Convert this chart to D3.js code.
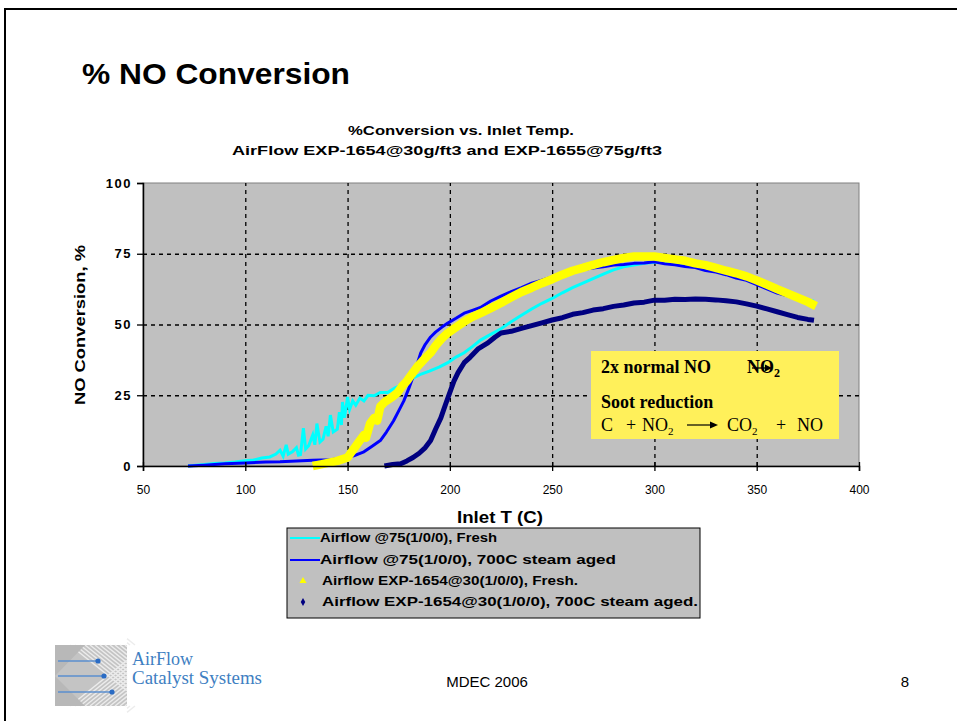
<!DOCTYPE html>
<html><head><meta charset="utf-8">
<script src="https://cdn.jsdelivr.net/npm/d3@7/dist/d3.min.js"></script>
<style>
body{margin:0;background:#fff;}
svg{display:block;}
</style></head>
<body>
<svg id="c" width="957" height="721"></svg>
<script>
// ---- data ----
const xTicks = [50,100,150,200,250,300,350,400];
const yTicks = [0,25,50,75,100];

const seriesNames = [
  "Airflow @75(1/0/0), Fresh",
  "Airflow @75(1/0/0), 700C steam aged",
  "Airflow EXP-1654@30(1/0/0), Fresh.",
  "Airflow EXP-1654@30(1/0/0), 700C steam aged."
];

const cyanFresh = [
 [72,0],[76,0.3],[80,0.5],[85,0.9],[90,1.1],[95,1.4],[100,1.9],[104,2.1],[108,2.8],[112,3.2],[115,4.2],
 [117,5.6],[118.5,3.5],[120,7.5],[121,4.2],[123,5],[125,6.5],[126,3.8],[127,4],[128.4,13.4],[129.5,6],[131,7.2],
 [133,11],[134,7.5],[135,15],[136.5,8.5],[138,9.5],[139.5,14],[140.5,10.5],[141.6,18],[143,12],[145,13],
 [146,19],[147,14.5],[147.5,22.6],[148.5,17],[150,24.4],[151,20],[152.5,23],[154,21.5],[156,24],[158,23],
 [160,25],[163,24.8],[166,26],[169.6,26],[173,27.5],[176,28.5],[179,29.5],[182,31],[186,32.5],[190,33.5],
 [195,35],[199,36.5],[203,38.5],[207,40],[211,42.2],[215,44.5],[220,46.5],[225,48.5],[230,51],[235,53.3],
 [240,55.5],[245,57.5],[250,59.2],[255,61.2],[260,63],[265,64.6],[270,66.2],[275,67.8],[280,69.3],[285,70.4],
 [290,71],[295,71.6],[300,72],[305,72.1],[310,71.6],[315,71.2],[320,70.6],[325,69.8],[330,69.1],[335,68.2],
 [340,67.2],[345,66.1],[350,64.9],[355,63.5],[360,62.2],[365,60.9],[370,59.8],[375,58.8],[378,58.2]
];
const blueAged = [
 [72,0],[80,0.3],[90,0.8],[100,1.1],[110,1.4],[117,1.5],[125,1.8],[133,2],[141.6,2.2],[148,2.8],[153,3.6],
 [158,5],[162,7],[166,9],[169,12],[172.5,16],[175,19.5],[177.5,23],[180,27.5],[182,31.5],[184,36],
 [185.8,40],[188,43],[190.6,45.6],[193,47.3],[196,49],[199,50.5],[203,52.2],[207,54],[211,55],[215,56],
 [220,58.3],[225,60],[230,61.6],[235,63],[240,64.6],[245,65.7],[250,66.8],[255,67.7],[260,68.8],[265,69.3],
 [270,70],[275,70.4],[280,71],[285,71.2],[290,71.6],[295,71.7],[300,72.2],[305,71.5],[310,71.1],[315,70.5],
 [320,70.1],[325,69.1],[330,68.5],[335,67.6],[340,66.4],[345,65.6],[350,64.1],[355,62.6],[360,61.1],
 [365,60.1],[370,58.9],[375,57.6],[378,57]
];
const yellowFresh = [
 [133,0],[137,0.6],[141,1.2],[145,1.8],[150,3],[153,6],[156,9],[158,11],[159,10],[161,15],[163,17],
 [164.5,16],[166,21],[168,22.5],[170,23.5],[172,24.5],[174.5,26],[177,28.5],[179,30],[182,33],[184,35],
 [186.5,37],[188.5,38.5],[190.6,40],[193,42.5],[196,45],[199,47],[203,49],[207,51],[211,52.7],[215,54],
 [220,55.8],[225,57.6],[230,59.6],[235,61.5],[240,63],[245,64.6],[250,66],[255,67.6],[260,69],[265,70],
 [270,71.1],[275,72],[280,72.8],[285,73.5],[290,74],[295,74],[300,74],[305,73.5],[310,73],[315,72.5],
 [320,71.6],[325,71],[330,70],[335,69],[340,68.1],[345,67],[350,65.6],[355,64.1],[360,62.5],[365,61],
 [370,59.5],[375,58],[379,56.5]
];
const navyAged = [
 [168,0],[172,0.5],[176,0.8],[179,1.8],[182,3],[185,4.5],[188,6.5],[190.6,9],[193,13],[195.6,17],[198,22],
 [200.5,27],[202,30],[204,33],[207,36.5],[210,38.5],[214,41.5],[218.6,43.5],[222,45.5],[225,47],[230,47.6],
 [235,48.6],[240,49.6],[245,50.6],[250,51.6],[255,52.4],[260,53.6],[265,54.2],[270,55.1],[275,55.6],
 [280,56.4],[285,56.9],[290,57.6],[295,57.9],[300,58.6],[305,58.6],[310,58.9],[315,58.8],[320,59],
 [325,58.9],[330,58.7],[335,58.4],[340,58],[345,57.3],[350,56.5],[355,55.5],[360,54.5],[365,53.5],
 [370,52.5],[375,51.8],[378,51.5]
];

// ---- drawing ----
const svg = d3.select("#c");
const SANS = "'Liberation Sans', Arial, sans-serif";
const SERIF = "'Liberation Serif', 'Times New Roman', serif";

// slide border
svg.append("rect").attr("x",5).attr("y",9).attr("width",1000).attr("height",800)
  .attr("fill","none").attr("stroke","#000").attr("stroke-width",2);

// slide title
svg.append("text").attr("x",82).attr("y",84).attr("font-family",SANS).attr("font-weight","bold")
  .attr("font-size",30).attr("textLength",268).attr("lengthAdjust","spacingAndGlyphs").text("% NO Conversion");

// chart title
svg.append("text").attr("x",461).attr("y",135).attr("text-anchor","middle").attr("font-family",SANS)
  .attr("font-weight","bold").attr("font-size",12.5).attr("textLength",226).attr("lengthAdjust","spacingAndGlyphs")
  .text("%Conversion vs. Inlet Temp.");
svg.append("text").attr("x",447).attr("y",155).attr("text-anchor","middle").attr("font-family",SANS)
  .attr("font-weight","bold").attr("font-size",12.5).attr("textLength",430).attr("lengthAdjust","spacingAndGlyphs")
  .text("AirFlow EXP-1654@30g/ft3 and EXP-1655@75g/ft3");

const L=143, R=859, T=183, B=466;
const x = d3.scaleLinear().domain([50,400]).range([L,R]);
const y = d3.scaleLinear().domain([0,100]).range([B,T]);

// plot background
svg.append("rect").attr("x",L).attr("y",T).attr("width",R-L).attr("height",B-T)
  .attr("fill","#c0c0c0").attr("stroke","#808080").attr("stroke-width",1);

// gridlines
const gx = svg.append("g").attr("transform",`translate(0,${B})`)
  .call(d3.axisBottom(x).tickValues(xTicks.slice(1,-1)).tickSize(-(B-T)).tickFormat(""));
gx.select(".domain").remove();
gx.selectAll("line").attr("stroke","#000").attr("stroke-dasharray","4,4").attr("stroke-width",1.3);
const gy = svg.append("g").attr("transform",`translate(${L},0)`)
  .call(d3.axisLeft(y).tickValues(yTicks.slice(1,-1)).tickSize(-(R-L)).tickFormat(""));
gy.select(".domain").remove();
gy.selectAll("line").attr("stroke","#000").attr("stroke-dasharray","4,4").attr("stroke-width",1.3);

// series
const line = d3.line().x(d=>x(d[0])).y(d=>y(d[1]));
const plot = svg.append("g");
plot.append("path").datum(cyanFresh).attr("d",line).attr("fill","none").attr("stroke","#00ffff").attr("stroke-width",3).attr("stroke-linejoin","miter");
plot.append("path").datum(blueAged).attr("d",line).attr("fill","none").attr("stroke","#0000ff").attr("stroke-width",3).attr("stroke-linejoin","round");
plot.append("path").datum(yellowFresh).attr("d",line).attr("fill","none").attr("stroke","#ffff00").attr("stroke-width",8.5).attr("stroke-linejoin","round");
plot.append("path").datum(navyAged).attr("d",line).attr("fill","none").attr("stroke","#000080").attr("stroke-width",5).attr("stroke-linejoin","round");

// axes
const ax = svg.append("g").attr("transform",`translate(0,${B})`)
  .call(d3.axisBottom(x).tickValues(xTicks).tickSize(5).tickPadding(14));
ax.select(".domain").attr("stroke","#000").attr("stroke-width",1.5);
ax.selectAll(".tick line").attr("stroke","#000").attr("y1",-4).attr("stroke-width",1.3);
ax.selectAll("text").attr("font-family",SANS).attr("font-size",12).attr("fill","#000");

const ay = svg.append("g").attr("transform",`translate(${L},0)`)
  .call(d3.axisLeft(y).tickValues(yTicks).tickSize(6).tickPadding(5));
ay.select(".domain").attr("stroke","#000").attr("stroke-width",1.5);
ay.selectAll(".tick line").attr("stroke","#000").attr("stroke-width",1.3);
ay.selectAll("text").attr("font-family",SANS).attr("font-size",13).attr("font-weight","bold")
  .attr("letter-spacing","1.5px").attr("fill","#000");

// axis titles
svg.append("text").attr("transform","translate(85,325) rotate(-90)").attr("text-anchor","middle")
  .attr("font-family",SANS).attr("font-weight","bold").attr("font-size",15)
  .attr("textLength",160).attr("lengthAdjust","spacingAndGlyphs").text("NO Conversion, %");
svg.append("text").attr("x",500).attr("y",523).attr("text-anchor","middle")
  .attr("font-family",SANS).attr("font-weight","bold").attr("font-size",16)
  .attr("textLength",86).attr("lengthAdjust","spacingAndGlyphs").text("Inlet T (C)");

// annotation box
svg.append("rect").attr("x",591).attr("y",351).attr("width",248).attr("height",88).attr("fill","#fff05a");
const ann = svg.append("g").attr("font-family",SERIF).attr("fill","#000");
ann.append("text").attr("x",601).attr("y",373).attr("font-size",18).attr("font-weight","bold").text("2x normal NO");
ann.append("text").attr("x",747).attr("y",373).attr("font-size",18).attr("font-weight","bold").text("NO");
ann.append("text").attr("x",774).attr("y",377).attr("font-size",12).attr("font-weight","bold").text("2");
ann.append("line").attr("x1",752).attr("x2",768).attr("y1",368).attr("y2",368).attr("stroke","#000").attr("stroke-width",1.3);
ann.append("path").attr("d","M772,368 L765,364.5 L765,371.5 Z").attr("fill","#000");
ann.append("text").attr("x",601).attr("y",408).attr("font-size",18).attr("font-weight","bold").text("Soot reduction");
ann.append("text").attr("x",601).attr("y",431).attr("font-size",18).text("C");
ann.append("text").attr("x",626).attr("y",431).attr("font-size",18).text("+");
ann.append("text").attr("x",642).attr("y",431).attr("font-size",18).text("NO");
ann.append("text").attr("x",668).attr("y",435).attr("font-size",11).text("2");
ann.append("line").attr("x1",687).attr("x2",713).attr("y1",425).attr("y2",425).attr("stroke","#000").attr("stroke-width",1.2);
ann.append("path").attr("d","M718,425 L710,421.5 L710,428.5 Z").attr("fill","#000");
ann.append("text").attr("x",727).attr("y",431).attr("font-size",18).text("CO");
ann.append("text").attr("x",752).attr("y",435).attr("font-size",11).text("2");
ann.append("text").attr("x",776).attr("y",431).attr("font-size",18).text("+");
ann.append("text").attr("x",797).attr("y",431).attr("font-size",18).text("NO");

// legend
const lg = svg.append("g");
lg.append("rect").attr("x",287).attr("y",528).attr("width",413).attr("height",90)
  .attr("fill","#c0c0c0").attr("stroke","#000").attr("stroke-width",1);
const rowY = [542,564,585,606];
const widths = [177,296,256,376];
const textX = [320,320,322,322];
lg.append("line").attr("x1",290).attr("x2",320).attr("y1",rowY[0]-4).attr("y2",rowY[0]-4).attr("stroke","#00ffff").attr("stroke-width",2);
lg.append("line").attr("x1",290).attr("x2",320).attr("y1",rowY[1]-4).attr("y2",rowY[1]-4).attr("stroke","#0000ff").attr("stroke-width",2);
lg.append("path").attr("d",d3.symbol(d3.symbolTriangle,22)()).attr("transform",`translate(303,${rowY[2]-4})`).attr("fill","#ffff00");
lg.append("path").attr("d",d3.symbol(d3.symbolDiamond,18)()).attr("transform",`translate(303,${rowY[3]-4})`).attr("fill","#000080");
seriesNames.forEach((n,i)=>{
  lg.append("text").attr("x",textX[i]).attr("y",rowY[i]).attr("font-family",SANS).attr("font-weight","bold")
    .attr("font-size",12.5).attr("textLength",widths[i]).attr("lengthAdjust","spacingAndGlyphs").text(n);
});

// footer logo
const logo = svg.append("g");
logo.append("rect").attr("x",55).attr("y",645).attr("width",72).attr("height",61).attr("fill","#c4c4c4");
const lp = logo.append("g").attr("stroke","#ececec").attr("stroke-width",1.4);
for(let i=0;i<14;i++){
  lp.append("line").attr("x1",70+i*5).attr("y1",706).attr("x2",127).attr("y2",706-(127-70-i*5)*0.8);
  lp.append("line").attr("x1",70+i*5).attr("y1",645).attr("x2",127).attr("y2",645+(127-70-i*5)*0.8);
}
logo.append("path").attr("d","M55,645 L85,645 L55,676 Z M55,706 L85,706 L55,676 Z").attr("fill","#b8b8b8");
const dots=[[58,661,98],[58,676,104],[58,692,112]];
dots.forEach(d=>{
  logo.append("line").attr("x1",d[0]).attr("x2",d[2]).attr("y1",d[1]).attr("y2",d[1]).attr("stroke","#5b8fcf").attr("stroke-width",1.5);
  logo.append("circle").attr("cx",d[2]).attr("cy",d[1]).attr("r",2.6).attr("fill","#2b6cc4");
});
svg.append("text").attr("x",132).attr("y",665).attr("font-family",SERIF).attr("font-size",18).attr("fill","#3f7fc2").text("AirFlow");
svg.append("text").attr("x",132).attr("y",684).attr("font-family",SERIF).attr("font-size",18).attr("fill","#3f7fc2")
  .attr("textLength",130).attr("lengthAdjust","spacingAndGlyphs").text("Catalyst Systems");

svg.append("text").attr("x",487).attr("y",687).attr("text-anchor","middle").attr("font-family",SANS).attr("font-size",15).text("MDEC 2006");
svg.append("text").attr("x",905).attr("y",687).attr("text-anchor","middle").attr("font-family",SANS).attr("font-size",15).text("8");
</script>
</body></html>
